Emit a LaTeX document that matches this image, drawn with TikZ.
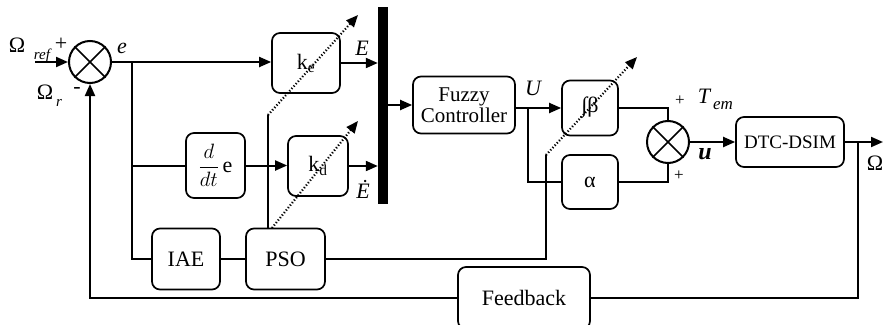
\documentclass[tikz,border=0pt]{standalone}
\usepackage{fontspec}
\setmainfont{Liberation Serif}
\usetikzlibrary{arrows.meta}
\begin{document}
\begin{tikzpicture}[x=1pt,y=-1pt,
  blk/.style={draw, line width=1.7pt, rounded corners=8pt, inner sep=0pt, font=\fontsize{22}{24}\selectfont, align=center},
  wire/.style={line width=2pt},
  arr/.style={wire, -{Triangle[length=12pt,width=10pt]}},
  dotarr/.style={line width=2.2pt, dash pattern=on 1.2pt off 2pt, -{Triangle[length=12pt,width=10pt]}},
  lbl/.style={inner sep=0pt, font=\fontsize{22}{24}\selectfont},
  sublbl/.style={inner sep=0pt, font=\fontsize{15}{16}\selectfont\itshape},
  sumc/.style={draw, circle, line width=2pt, minimum size=42pt, inner sep=0pt}
]
\useasboundingbox (0,0) rectangle (891,324);
\clip (0,0) rectangle (891,324);

% sums
\node[sumc] (s1) at (90,62) {};
\draw[line width=1.7pt] (s1.45) -- (s1.225) (s1.135) -- (s1.315);
\node[sumc] (s2) at (668,142) {};
\draw[line width=1.7pt] (s2.45) -- (s2.225) (s2.135) -- (s2.315);

% blocks
\node[blk, minimum width=68pt, minimum height=60pt] (ke) at (306,63) {k\textsubscript{e}};
\node[blk, minimum width=59pt, minimum height=65pt] (ddt) at (215.5,165.5) {$\displaystyle\frac{d}{dt}$\,e};
\node[blk, minimum width=60pt, minimum height=60pt] (kd) at (318,166) {k\textsubscript{d}};
\node[blk, minimum width=68pt, minimum height=61pt] (iae) at (186,259) {IAE};
\node[blk, minimum width=79pt, minimum height=61pt] (pso) at (285.5,259) {PSO};
\node[blk, minimum width=102pt, minimum height=57pt, font=\fontsize{21}{24}\selectfont] (fz) at (464,105) {Fuzzy\\[-3pt]Controller};
\node[blk, minimum width=56pt, minimum height=55pt] (ib) at (590,108) {∫β};
\node[blk, minimum width=56pt, minimum height=54pt] (al) at (590,182) {α};
\node[blk, minimum width=108pt, minimum height=50pt, font=\fontsize{19}{22}\selectfont] (dtc) at (790,142) {DTC-DSIM};
\node[blk, minimum width=132pt, minimum height=62pt] (fb) at (524,298) {Feedback};
\node[fill=black, minimum width=10pt, minimum height=197pt, inner sep=0pt] (bar) at (383,105.5) {};

% coordinates
\coordinate (in) at (35,62);
\coordinate (out) at (883,142);
\coordinate (b1) at (132,62);
\coordinate (b2) at (528,108);
\coordinate (b3) at (858,142);
\coordinate (p1) at (268,115);
\coordinate (p2) at (546,155);
\coordinate (t1) at (358,15);
\coordinate (t2) at (358,121);
\coordinate (t3) at (637,57);

% main path
\draw[arr] (in) -- (s1.west);
\draw[arr] (s1.east) -- (s1.east -| ke.west);
\draw[arr] (ke.east) -- (ke.east -| bar.west);
\draw[wire] (b1) -- (b1 |- iae.west) -- (iae.west);
\draw[wire] (b1 |- ddt.west) -- (ddt.west);
\draw[arr] (ddt.east) -- (ddt.east -| kd.west);
\draw[arr] (kd.east) -- (kd.east -| bar.west);
\draw[arr] (bar.east |- fz.west) -- (fz.west);
\draw[arr] (fz.east |- ib.west) -- (ib.west);
\draw[wire] (b2) -- (b2 |- al.west) -- (al.west);
\draw[wire] (ib.east) -- (ib.east -| s2.north) -- (s2.north);
\draw[wire] (al.east) -- (al.east -| s2.south) -- (s2.south);
\draw[arr] (s2.east) -- (dtc.west);
\draw[arr] (dtc.east) -- (out);
\draw[wire] (b3) -- (b3 |- fb.east) -- (fb.east);
\draw[arr] (fb.west) -- (fb.west -| s1.south) -- (s1.south);
\draw[wire] (iae.east) -- (pso.west);
\draw[wire] (pso.east) -- (pso.east -| p2) -- (p2);
\draw[wire] (p1 |- pso.north) -- (p1);

% dotted tuning arrows
\draw[dotarr] (p1) -- (t1);
\draw[dotarr] (272,228) -- (t2);
\draw[dotarr] (p2) -- (t3);

% labels
\node[lbl] (lOref) at (17,45) {Ω};
\node[sublbl] (lref) at (42,56) {ref};
\node[lbl] (lp1) at (61,44) {+};
\node[lbl] (lOr) at (45,92) {Ω};
\node[sublbl] (lr) at (59,103) {r};
\node[lbl] (lm1) at (77,90) {-};
\node[lbl, font=\fontsize{22}{24}\selectfont\itshape] (le) at (122,48) {e};
\node[lbl, font=\fontsize{22}{24}\selectfont\itshape] (lE) at (362,48) {E};
\node[lbl, font=\fontsize{22}{24}\selectfont\itshape] (lEd) at (363,189) {Ė};
\node[lbl, font=\fontsize{22}{24}\selectfont\itshape] (lU) at (533,88) {U};
\node[lbl, font=\fontsize{17}{20}\selectfont] (lp2) at (680,101) {+};
\node[lbl, font=\fontsize{22}{24}\selectfont\itshape] (lT) at (704,96) {T};
\node[sublbl, font=\fontsize{17}{18}\selectfont\itshape] (lem) at (723,106) {em};
\node[lbl, font=\fontsize{17}{20}\selectfont] (lp3) at (679,176) {+};
\node[lbl, font=\fontsize{24}{26}\selectfont\bfseries\itshape] (lu) at (705,154) {u};
\node[lbl] (lO) at (875,163) {Ω};
\end{tikzpicture}
\end{document}
